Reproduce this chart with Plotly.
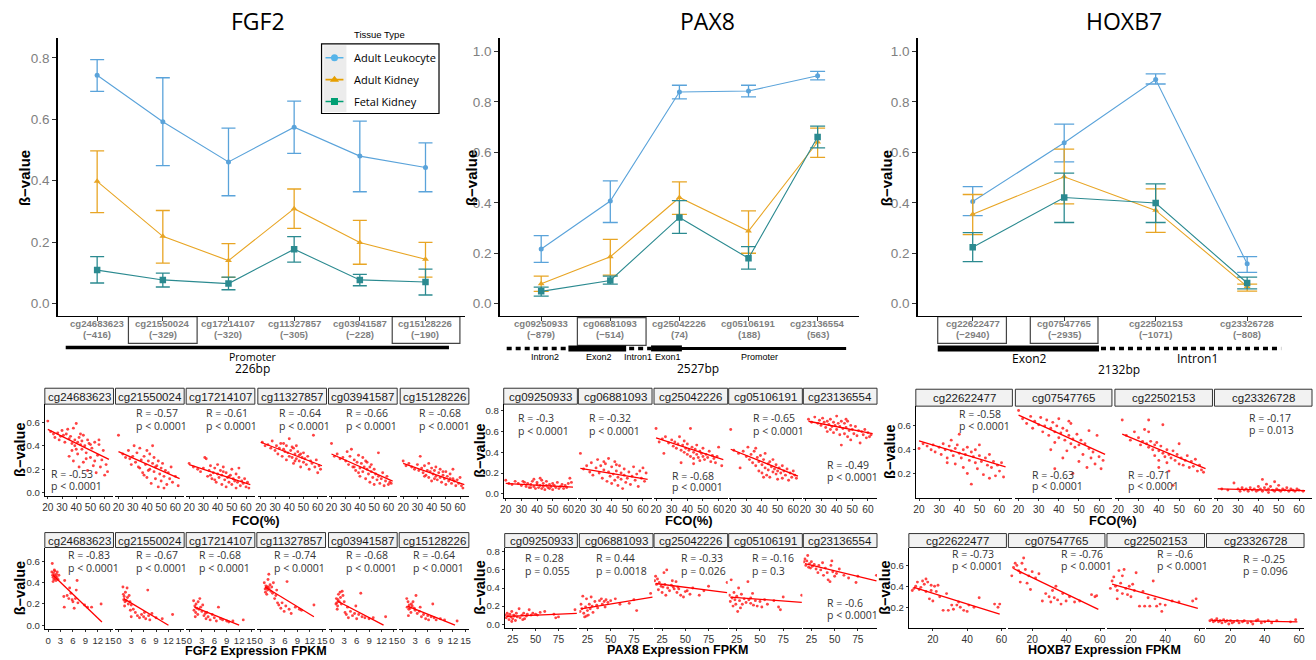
import plotly.graph_objects as go

W, H = 1316, 660

# ======================================================================
# DATA
# ======================================================================
SERIES = ["Adult Leukocyte", "Adult Kidney", "Fetal Kidney"]

FGF2_PROBES = ["cg24683623", "cg21550024", "cg17214107", "cg11327857", "cg03941587", "cg15128226"]
FGF2_POS = ["(−416)", "(−329)", "(−320)", "(−305)", "(−228)", "(−190)"]
FGF2_LEUK = [0.743, 0.592, 0.461, 0.574, 0.480, 0.443]
FGF2_LEUK_HI = [0.794, 0.735, 0.571, 0.659, 0.594, 0.523]
FGF2_LEUK_LO = [0.691, 0.449, 0.351, 0.489, 0.364, 0.364]
FGF2_KID = [0.398, 0.219, 0.140, 0.309, 0.199, 0.144]
FGF2_KID_HI = [0.497, 0.303, 0.195, 0.373, 0.271, 0.199]
FGF2_KID_LO = [0.296, 0.132, 0.085, 0.245, 0.128, 0.086]
FGF2_FET = [0.109, 0.077, 0.065, 0.177, 0.077, 0.070]
FGF2_FET_HI = [0.153, 0.099, 0.086, 0.218, 0.095, 0.112]
FGF2_FET_LO = [0.067, 0.054, 0.045, 0.135, 0.058, 0.028]

PAX8_PROBES = ["cg09250933", "cg06881093", "cg25042226", "cg05106191", "cg23136554"]
PAX8_POS = ["(−879)", "(−514)", "(74)", "(188)", "(563)"]
PAX8_LEUK = [0.217, 0.407, 0.839, 0.843, 0.904]
PAX8_LEUK_HI = [0.270, 0.487, 0.866, 0.866, 0.921]
PAX8_LEUK_LO = [0.164, 0.322, 0.812, 0.820, 0.887]
PAX8_KID = [0.079, 0.186, 0.421, 0.288, 0.641]
PAX8_KID_HI = [0.109, 0.255, 0.483, 0.368, 0.696]
PAX8_KID_LO = [0.049, 0.113, 0.354, 0.200, 0.580]
PAX8_FET = [0.049, 0.092, 0.342, 0.180, 0.661]
PAX8_FET_HI = [0.066, 0.109, 0.409, 0.226, 0.704]
PAX8_FET_LO = [0.030, 0.078, 0.279, 0.137, 0.618]

HOXB7_PROBES = ["cg22622477", "cg07547765", "cg22502153", "cg23326728"]
HOXB7_POS = ["(−2940)", "(−2935)", "(−1071)", "(−808)"]
HOXB7_LEUK = [0.405, 0.638, 0.889, 0.158]
HOXB7_LEUK_HI = [0.464, 0.712, 0.911, 0.187]
HOXB7_LEUK_LO = [0.349, 0.562, 0.871, 0.124]
HOXB7_KID = [0.355, 0.503, 0.370, 0.068]
HOXB7_KID_HI = [0.433, 0.613, 0.455, 0.078]
HOXB7_KID_LO = [0.274, 0.396, 0.283, 0.050]
HOXB7_FET = [0.224, 0.421, 0.399, 0.082]
HOXB7_FET_HI = [0.282, 0.518, 0.475, 0.105]
HOXB7_FET_LO = [0.167, 0.322, 0.322, 0.059]

# ---------------- scatter: FCO(%) vs beta, FGF2 ----------------
FGF2_FCO_PTS = [
    [(20,0.61),(22,0.52),(24,0.50),(25,0.47),(27,0.51),(28,0.45),(29,0.48),(30,0.53),(31,0.49),(32,0.43),(33,0.50),(34,0.54),(35,0.46),(35,0.31),(36,0.48),(37,0.42),(38,0.55),(38,0.27),(39,0.45),(40,0.59),(40,0.37),(41,0.43),(42,0.47),(42,0.22),(43,0.41),(44,0.44),(45,0.49),(45,0.26),(46,0.40),(47,0.34),(48,0.45),(48,0.19),(49,0.42),(50,0.30),(51,0.38),(52,0.23),(53,0.43),(54,0.17),(55,0.32),(56,0.41),(57,0.22),(58,0.28),(59,0.36),(60,0.15),(61,0.24),(62,0.18),(37,0.36),(41,0.33),(44,0.37),(47,0.29),(50,0.41),(53,0.27),(56,0.45),(43,0.50),(39,0.40)],
    [(20,0.49),(23,0.33),(25,0.30),(27,0.36),(28,0.29),(30,0.31),(31,0.40),(32,0.26),(33,0.34),(34,0.22),(35,0.38),(36,0.28),(37,0.17),(38,0.31),(39,0.24),(40,0.36),(40,0.13),(41,0.27),(42,0.20),(42,0.33),(43,0.08),(44,0.25),(45,0.18),(45,0.30),(46,0.12),(47,0.23),(48,0.05),(48,0.27),(49,0.16),(50,0.21),(50,0.10),(51,0.25),(52,0.14),(53,0.19),(54,0.07),(55,0.17),(56,0.12),(57,0.22),(58,0.09),(60,0.14),(62,0.06),(35,0.21),(38,0.15),(44,0.40),(46,0.22),(52,0.04),(29,0.24),(41,0.19)],
    [(20,0.25),(23,0.22),(26,0.20),(28,0.18),(30,0.21),(32,0.29),(33,0.14),(34,0.19),(35,0.23),(36,0.12),(37,0.17),(38,0.21),(39,0.09),(40,0.16),(40,0.24),(41,0.13),(42,0.19),(43,0.07),(43,0.15),(44,0.22),(45,0.11),(46,0.17),(46,0.05),(47,0.13),(48,0.09),(49,0.15),(50,0.20),(50,0.07),(51,0.12),(52,0.10),(53,0.16),(53,0.04),(54,0.09),(55,0.13),(56,0.06),(57,0.10),(58,0.08),(59,0.12),(60,0.05),(61,0.09),(62,0.04),(35,0.15),(38,0.11),(44,0.18),(48,0.14),(55,0.21),(31,0.30)],
    [(21,0.43),(23,0.40),(25,0.41),(27,0.38),(28,0.44),(30,0.36),(31,0.40),(32,0.33),(33,0.38),(34,0.42),(35,0.31),(36,0.37),(37,0.35),(38,0.40),(38,0.28),(39,0.34),(40,0.46),(40,0.31),(41,0.36),(42,0.30),(43,0.38),(43,0.25),(44,0.33),(45,0.29),(45,0.40),(46,0.35),(47,0.27),(47,0.32),(48,0.22),(49,0.30),(50,0.34),(50,0.26),(51,0.29),(52,0.24),(53,0.31),(54,0.20),(55,0.27),(56,0.25),(57,0.49),(58,0.22),(59,0.28),(60,0.17),(61,0.23),(62,0.20),(36,0.42),(42,0.39),(48,0.33),(44,0.27)],
    [(20,0.42),(22,0.31),(24,0.33),(26,0.29),(28,0.30),(30,0.27),(31,0.35),(32,0.24),(33,0.31),(34,0.37),(35,0.22),(36,0.28),(37,0.19),(38,0.26),(39,0.32),(40,0.21),(40,0.14),(41,0.25),(42,0.18),(42,0.30),(43,0.22),(44,0.12),(45,0.20),(45,0.26),(46,0.16),(47,0.09),(47,0.22),(48,0.18),(49,0.13),(50,0.20),(50,0.07),(51,0.16),(52,0.11),(53,0.34),(53,0.14),(54,0.08),(55,0.12),(56,0.17),(57,0.06),(58,0.10),(59,0.14),(60,0.07),(61,0.09),(62,0.08),(36,0.22),(39,0.17),(44,0.27),(48,0.24)],
    [(20,0.27),(22,0.23),(24,0.25),(26,0.22),(28,0.20),(30,0.24),(31,0.19),(32,0.31),(33,0.21),(34,0.17),(35,0.23),(36,0.15),(37,0.19),(38,0.25),(38,0.13),(39,0.18),(40,0.21),(40,0.10),(41,0.16),(42,0.19),(43,0.14),(43,0.22),(44,0.11),(45,0.17),(46,0.13),(46,0.20),(47,0.09),(48,0.15),(49,0.12),(50,0.18),(50,0.07),(51,0.14),(52,0.10),(53,0.16),(54,0.08),(55,0.12),(55,0.20),(56,0.10),(57,0.06),(58,0.11),(59,0.08),(60,0.13),(61,0.06),(62,0.04),(35,0.14),(42,0.12),(48,0.18),(53,0.12)],
]
FGF2_FCO_FIT = [((20, 63), (0.54, 0.285)), ((20, 63), (0.35, 0.12)), ((20, 63), (0.24, 0.07)),
                ((20, 63), (0.43, 0.23)), ((20, 63), (0.33, 0.10)), ((20, 63), (0.25, 0.07))]
FGF2_FCO_R = ["R = -0.53", "R = -0.57", "R = -0.61", "R = -0.64", "R = -0.66", "R = -0.68"]
FGF2_FCO_P = ["p < 0.0001"] * 6

# ---------------- scatter: FPKM vs beta, FGF2 ----------------
FGF2_EXP_PTS = [
    [(1.0,0.58),(0.9,0.50),(1.1,0.47),(1.2,0.45),(1.3,0.49),(1.4,0.43),(1.5,0.47),(1.6,0.51),(1.7,0.44),(1.8,0.46),(1.9,0.42),(2.0,0.48),(2.1,0.45),(2.2,0.50),(2.4,0.43),(2.6,0.47),(1.2,0.41),(1.5,0.52),(3.8,0.27),(3.9,0.17),(4.0,0.42),(4.6,0.28),(5.2,0.35),(5.5,0.30),(5.8,0.24),(6.0,0.22),(6.3,0.16),(6.6,0.25),(7.0,0.42),(7.2,0.21),(8.8,0.19),(9.5,0.17),(10.5,0.17),(12.8,0.20),(5.0,0.25),(6.8,0.33)],
    [(1.0,0.36),(1.2,0.24),(1.3,0.27),(1.5,0.22),(1.6,0.31),(1.8,0.23),(2.0,0.35),(2.1,0.26),(2.3,0.20),(2.5,0.28),(2.7,0.22),(3.0,0.19),(1.4,0.18),(1.1,0.29),(3.5,0.15),(4.0,0.12),(4.5,0.09),(5.0,0.07),(5.5,0.10),(6.0,0.08),(6.2,0.12),(6.5,0.06),(7.0,0.33),(7.2,0.09),(7.5,0.05),(8.0,0.11),(3.0,0.08),(9.0,0.07),(10.5,0.06),(13.0,0.10),(2.8,0.14)],
    [(1.0,0.23),(1.1,0.14),(1.3,0.18),(1.5,0.12),(1.6,0.20),(1.8,0.16),(2.0,0.10),(2.1,0.22),(2.3,0.15),(2.5,0.25),(2.7,0.17),(3.0,0.13),(3.2,0.19),(3.5,0.09),(3.8,0.11),(4.0,0.06),(4.5,0.08),(5.0,0.05),(5.5,0.10),(6.0,0.07),(6.5,0.04),(7.0,0.17),(7.5,0.06),(8.0,0.05),(9.0,0.04),(9.5,0.03),(10.5,0.04),(13.0,0.05),(1.4,0.08),(4.2,0.12)],
    [(1.0,0.40),(1.2,0.34),(1.3,0.31),(1.4,0.37),(1.5,0.35),(1.6,0.29),(1.7,0.36),(1.8,0.33),(1.9,0.43),(2.0,0.36),(2.1,0.48),(2.2,0.34),(2.4,0.38),(2.6,0.32),(2.8,0.36),(3.0,0.30),(3.5,0.25),(3.8,0.28),(4.2,0.21),(4.5,0.19),(5.0,0.16),(5.3,0.21),(5.8,0.13),(6.2,0.18),(6.5,0.41),(7.0,0.15),(7.5,0.11),(8.5,0.17),(9.5,0.15),(10.0,0.14),(13.0,0.19),(3.2,0.40),(4.0,0.33)],
    [(1.0,0.20),(1.1,0.25),(1.2,0.21),(1.4,0.18),(1.5,0.24),(1.6,0.29),(1.8,0.22),(2.0,0.31),(2.1,0.26),(2.3,0.20),(2.5,0.32),(2.7,0.28),(3.0,0.22),(1.3,0.15),(3.2,0.12),(3.5,0.10),(4.0,0.07),(4.5,0.13),(5.0,0.09),(5.5,0.11),(6.0,0.06),(6.5,0.10),(7.0,0.30),(7.3,0.08),(8.0,0.07),(9.0,0.06),(10.0,0.07),(13.0,0.08),(3.8,0.17),(5.8,0.18)],
    [(1.0,0.25),(1.1,0.17),(1.3,0.22),(1.5,0.15),(1.6,0.19),(1.8,0.16),(2.0,0.12),(2.1,0.20),(2.3,0.18),(2.5,0.22),(2.8,0.16),(3.0,0.14),(3.2,0.28),(1.4,0.09),(3.5,0.11),(4.0,0.13),(4.5,0.08),(5.0,0.10),(5.5,0.06),(6.0,0.09),(6.2,0.05),(6.8,0.08),(7.2,0.20),(7.5,0.07),(8.0,0.05),(9.0,0.06),(10.0,0.05),(13.0,0.04),(4.2,0.17)],
]
FGF2_EXP_FIT = [((1.2, 13.0), (0.47, 0.03)), ((1.2, 12.0), (0.25, 0.0)), ((1.2, 12.0), (0.17, 0.0)),
                ((1.2, 13.0), (0.36, 0.08)), ((1.2, 12.5), (0.23, 0.0)), ((1.2, 12.5), (0.18, 0.0))]
FGF2_EXP_R = ["R = -0.83", "R = -0.67", "R = -0.68", "R = -0.74", "R = -0.68", "R = -0.64"]
FGF2_EXP_P = ["p < 0.0001"] * 6

# ---------------- scatter: PAX8 ----------------
PAX8_FCO_PTS = [
    [(20,0.13),(22,0.10),(24,0.09),(26,0.12),(28,0.10),(30,0.08),(31,0.12),(32,0.11),(33,0.07),(34,0.10),(35,0.06),(36,0.09),(37,0.12),(38,0.07),(38,0.14),(39,0.05),(40,0.09),(40,0.11),(41,0.06),(42,0.08),(42,0.15),(43,0.05),(44,0.10),(44,0.07),(45,0.04),(46,0.08),(46,0.12),(47,0.06),(48,0.09),(48,0.05),(49,0.07),(50,0.10),(50,0.04),(51,0.08),(52,0.06),(53,0.11),(54,0.05),(55,0.07),(56,0.09),(57,0.05),(58,0.08),(59,0.06),(60,0.10),(61,0.15),(62,0.11),(43,0.13),(36,0.06)],
    [(20,0.39),(22,0.24),(24,0.27),(26,0.21),(27,0.30),(28,0.18),(30,0.25),(31,0.33),(32,0.20),(33,0.27),(34,0.15),(35,0.23),(36,0.29),(37,0.12),(38,0.21),(38,0.34),(39,0.17),(40,0.26),(40,0.10),(41,0.19),(42,0.31),(42,0.13),(43,0.22),(44,0.08),(44,0.16),(45,0.27),(46,0.14),(46,0.20),(47,0.05),(48,0.18),(48,0.24),(49,0.11),(50,0.15),(51,0.21),(52,0.09),(53,0.17),(54,0.26),(55,0.13),(56,0.19),(57,0.07),(58,0.22),(59,0.15),(60,0.25),(61,0.12),(62,0.20),(35,0.31),(43,0.28)],
    [(20,0.63),(22,0.50),(24,0.53),(25,0.39),(26,0.55),(28,0.49),(30,0.52),(31,0.46),(32,0.50),(33,0.44),(34,0.48),(35,0.55),(36,0.42),(37,0.47),(38,0.40),(38,0.51),(39,0.44),(40,0.38),(40,0.48),(41,0.42),(42,0.63),(42,0.36),(43,0.45),(44,0.40),(44,0.34),(45,0.43),(46,0.38),(46,0.47),(47,0.35),(48,0.41),(48,0.32),(49,0.39),(50,0.36),(50,0.44),(51,0.33),(52,0.38),(53,0.35),(54,0.41),(55,0.31),(56,0.37),(57,0.34),(58,0.30),(59,0.36),(60,0.45),(62,0.27),(36,0.30),(44,0.29)],
    [(20,0.62),(22,0.42),(25,0.39),(26,0.25),(28,0.41),(30,0.36),(31,0.45),(32,0.33),(33,0.38),(34,0.30),(35,0.41),(36,0.27),(37,0.35),(38,0.31),(38,0.22),(39,0.37),(40,0.28),(40,0.20),(41,0.33),(42,0.25),(42,0.39),(43,0.18),(44,0.29),(44,0.23),(45,0.31),(45,0.16),(46,0.26),(47,0.21),(47,0.33),(48,0.24),(49,0.19),(49,0.28),(50,0.22),(50,0.14),(51,0.25),(52,0.20),(53,0.27),(53,0.15),(54,0.22),(55,0.18),(56,0.24),(57,0.13),(58,0.20),(59,0.16),(60,0.22),(61,0.18),(62,0.15),(36,0.44),(41,0.16)],
    [(22,0.72),(24,0.69),(26,0.74),(28,0.68),(29,0.71),(30,0.66),(31,0.73),(32,0.69),(33,0.64),(34,0.70),(35,0.67),(36,0.62),(36,0.72),(37,0.65),(38,0.69),(38,0.59),(39,0.66),(40,0.75),(40,0.62),(41,0.68),(42,0.57),(42,0.65),(43,0.70),(43,0.47),(44,0.63),(45,0.58),(45,0.68),(46,0.64),(47,0.55),(47,0.70),(48,0.61),(49,0.66),(49,0.52),(50,0.62),(51,0.58),(52,0.65),(53,0.56),(54,0.61),(55,0.49),(56,0.60),(57,0.57),(58,0.62),(59,0.54),(60,0.59),(61,0.55),(62,0.57),(34,0.60),(46,0.72)],
]
PAX8_FCO_FIT = [((20, 63), (0.10, 0.065)), ((20, 63), (0.245, 0.14)), ((20, 63), (0.54, 0.33)),
                ((20, 63), (0.43, 0.17)), ((22, 63), (0.70, 0.58))]
PAX8_FCO_R = ["R = -0.3", "R = -0.32", "R = -0.68", "R = -0.65", "R = -0.49"]
PAX8_FCO_P = ["p < 0.0001"] * 5

PAX8_EXP_PTS = [
    [(17,0.10),(18,0.07),(19,0.12),(20,0.09),(21,0.05),(22,0.11),(23,0.08),(24,0.14),(25,0.06),(26,0.10),(27,0.09),(28,0.04),(29,0.12),(30,0.08),(32,0.17),(33,0.07),(35,0.10),(37,0.12),(38,0.06),(40,0.09),(41,0.11),(43,0.16),(45,0.10),(47,0.12),(50,0.11),(52,0.10),(55,0.13),(60,0.14),(70,0.11),(72,0.07),(75,0.08),(93,0.16),(24,0.03),(36,0.05)],
    [(17,0.14),(18,0.22),(19,0.17),(20,0.31),(21,0.12),(22,0.08),(23,0.19),(24,0.28),(25,0.15),(26,0.10),(27,0.22),(28,0.17),(29,0.30),(30,0.20),(31,0.13),(33,0.25),(35,0.21),(36,0.18),(38,0.26),(40,0.28),(41,0.22),(43,0.25),(44,0.19),(45,0.27),(47,0.24),(50,0.26),(55,0.28),(60,0.22),(70,0.23),(75,0.27),(78,0.15),(93,0.34),(24,0.09)],
    [(17,0.48),(18,0.53),(19,0.44),(20,0.50),(21,0.38),(22,0.46),(24,0.42),(25,0.35),(26,0.41),(27,0.57),(28,0.44),(29,0.32),(30,0.60),(31,0.40),(33,0.37),(35,0.43),(37,0.41),(38,0.39),(40,0.47),(41,0.35),(42,0.41),(43,0.39),(45,0.32),(48,0.30),(50,0.36),(52,0.37),(55,0.33),(58,0.40),(65,0.32),(70,0.37),(75,0.42),(95,0.46),(36,0.48)],
    [(17,0.32),(18,0.25),(19,0.49),(20,0.29),(21,0.20),(22,0.35),(23,0.27),(24,0.22),(25,0.31),(26,0.14),(27,0.40),(28,0.26),(29,0.18),(30,0.33),(31,0.22),(33,0.28),(35,0.24),(37,0.47),(38,0.27),(40,0.23),(42,0.34),(43,0.21),(45,0.26),(47,0.20),(50,0.25),(52,0.19),(55,0.27),(58,0.22),(65,0.26),(70,0.19),(72,0.16),(75,0.30),(95,0.32),(40,0.29)],
    [(17,0.69),(18,0.72),(19,0.65),(20,0.70),(21,0.76),(22,0.63),(23,0.67),(24,0.62),(25,0.69),(26,0.64),(28,0.66),(30,0.61),(32,0.57),(33,0.65),(35,0.60),(37,0.68),(38,0.54),(40,0.62),(42,0.57),(43,0.49),(45,0.47),(46,0.65),(47,0.70),(48,0.58),(50,0.53),(52,0.56),(55,0.61),(60,0.54),(65,0.51),(73,0.46),(75,0.53),(95,0.54)],
]
PAX8_EXP_FIT = [((18, 95), (0.085, 0.12)), ((18, 95), (0.17, 0.30)), ((18, 95), (0.45, 0.35)),
                ((18, 95), (0.30, 0.24)), ((18, 95), (0.67, 0.48))]
PAX8_EXP_R = ["R = 0.28", "R = 0.44", "R = -0.33", "R = -0.16", "R = -0.6"]
PAX8_EXP_P = ["p = 0.055", "p = 0.0018", "p = 0.026", "p = 0.3", "p < 0.0001"]

# ---------------- scatter: HOXB7 ----------------
HOXB7_FCO_PTS = [
    [(20,0.41),(22,0.45),(24,0.43),(26,0.40),(27,0.44),(28,0.38),(30,0.42),(31,0.36),(32,0.45),(33,0.40),(34,0.33),(35,0.43),(36,0.39),(36,0.48),(37,0.35),(38,0.41),(38,0.28),(39,0.44),(40,0.37),(40,0.53),(41,0.33),(42,0.40),(42,0.25),(43,0.36),(44,0.42),(44,0.20),(45,0.31),(46,0.38),(46,0.11),(47,0.34),(48,0.29),(48,0.40),(49,0.24),(50,0.35),(51,0.30),(52,0.19),(53,0.33),(54,0.27),(55,0.36),(55,0.16),(56,0.25),(57,0.30),(58,0.18),(59,0.27),(60,0.22),(61,0.29),(62,0.17),(50,0.44),(34,0.29)],
    [(20,0.73),(22,0.66),(24,0.62),(26,0.68),(27,0.58),(28,0.64),(30,0.61),(31,0.67),(32,0.55),(33,0.60),(34,0.65),(35,0.52),(36,0.58),(36,0.40),(37,0.63),(38,0.55),(38,0.46),(39,0.60),(40,0.50),(40,0.66),(41,0.54),(42,0.33),(42,0.58),(43,0.48),(44,0.56),(44,0.39),(45,0.52),(46,0.45),(46,0.62),(47,0.49),(47,0.20),(48,0.42),(49,0.53),(50,0.44),(50,0.30),(51,0.48),(52,0.36),(53,0.45),(54,0.25),(55,0.41),(55,0.56),(56,0.33),(57,0.38),(58,0.28),(59,0.52),(60,0.34),(61,0.24),(62,0.31),(45,0.64),(38,0.24)],
    [(22,0.65),(24,0.52),(26,0.48),(28,0.55),(30,0.50),(31,0.44),(32,0.47),(33,0.57),(34,0.45),(35,0.42),(35,0.65),(36,0.47),(37,0.40),(38,0.44),(38,0.35),(39,0.46),(40,0.39),(40,0.31),(41,0.43),(42,0.37),(42,0.61),(43,0.34),(44,0.40),(44,0.29),(45,0.36),(45,0.22),(46,0.33),(47,0.39),(47,0.10),(48,0.31),(49,0.36),(50,0.28),(50,0.45),(51,0.33),(52,0.27),(53,0.31),(54,0.35),(55,0.25),(56,0.30),(57,0.26),(58,0.32),(59,0.22),(60,0.27),(61,0.23),(62,0.21),(35,0.55),(40,0.25)],
    [(22,0.07),(25,0.06),(28,0.12),(30,0.07),(31,0.05),(32,0.08),(33,0.06),(34,0.07),(35,0.05),(36,0.08),(37,0.06),(38,0.07),(39,0.05),(40,0.09),(40,0.06),(41,0.07),(42,0.15),(42,0.05),(43,0.08),(44,0.06),(45,0.07),(45,0.04),(46,0.09),(47,0.06),(48,0.05),(48,0.13),(49,0.07),(50,0.06),(50,0.10),(51,0.05),(52,0.07),(53,0.06),(54,0.08),(55,0.05),(56,0.07),(57,0.06),(58,0.05),(59,0.07),(60,0.06),(62,0.05),(44,0.11)],
]
HOXB7_FCO_FIT = [((20, 63), (0.475, 0.255)), ((20, 63), (0.69, 0.36)), ((22, 63), (0.53, 0.24)),
                 ((20, 63), (0.07, 0.055))]
HOXB7_FCO_R = ["R = -0.58", "R = -0.63", "R = -0.71", "R = -0.17"]
HOXB7_FCO_P = ["p < 0.0001", "p < 0.0001", "p < 0.0001", "p = 0.013"]

HOXB7_EXP_PTS = [
    [(8,0.36),(9,0.38),(10,0.40),(11,0.44),(12,0.37),(13,0.39),(14,0.45),(15,0.42),(16,0.47),(16,0.35),(17,0.44),(18,0.28),(19,0.36),(19,0.41),(20,0.26),(21,0.40),(22,0.35),(24,0.30),(26,0.17),(28,0.33),(29,0.17),(31,0.22),(32,0.18),(34,0.22),(35,0.25),(36,0.20),(38,0.17),(40,0.16),(41,0.22),(44,0.20),(47,0.29),(56,0.23),(58,0.20),(59,0.23),(23,0.41)],
    [(8,0.50),(9,0.58),(10,0.62),(11,0.60),(12,0.55),(13,0.53),(14,0.62),(15,0.67),(16,0.56),(17,0.43),(18,0.50),(19,0.37),(20,0.54),(22,0.48),(24,0.52),(26,0.26),(28,0.33),(30,0.30),(31,0.25),(32,0.36),(33,0.29),(34,0.40),(35,0.27),(37,0.23),(38,0.33),(40,0.26),(42,0.30),(45,0.25),(48,0.26),(55,0.32),(57,0.30),(58,0.31),(13,0.44)],
    [(8,0.38),(9,0.45),(10,0.49),(11,0.40),(12,0.36),(13,0.55),(14,0.43),(15,0.50),(15,0.33),(16,0.56),(17,0.38),(18,0.32),(19,0.40),(20,0.30),(21,0.42),(22,0.36),(23,0.53),(25,0.21),(27,0.35),(28,0.21),(30,0.29),(31,0.21),(33,0.45),(34,0.28),(35,0.21),(37,0.23),(38,0.16),(40,0.22),(44,0.26),(48,0.25),(56,0.26),(58,0.28),(12,0.28)],
    [(8,0.07),(9,0.08),(10,0.06),(11,0.07),(12,0.09),(13,0.06),(14,0.07),(15,0.05),(16,0.08),(17,0.06),(18,0.07),(19,0.04),(20,0.07),(22,0.06),(24,0.07),(25,0.05),(27,0.06),(28,0.07),(30,0.05),(32,0.06),(33,0.04),(35,0.07),(36,0.08),(38,0.05),(40,0.06),(42,0.07),(44,0.05),(47,0.07),(55,0.06),(58,0.08),(21,0.05)],
]
HOXB7_EXP_FIT = [((9, 59), (0.39, 0.135)), ((9, 59), (0.57, 0.18)), ((9, 59), (0.42, 0.19)),
                 ((9, 59), (0.075, 0.06))]
HOXB7_EXP_R = ["R = -0.73", "R = -0.76", "R = -0.6", "R = -0.25"]
HOXB7_EXP_P = ["p < 0.0001", "p < 0.0001", "p < 0.0001", "p = 0.096"]

# ======================================================================
# STYLE / LAYOUT
# ======================================================================
SANS = "Liberation Sans, Arial, sans-serif"
OPEN = "Open Sans, sans-serif"

C_LINE = ["#5aa3da", "#e8a524", "#2b8a90"]
C_LEG = ["#56B4E9", "#E69F00", "#009E73"]
SYMBOLS = ["circle", "triangle-up", "square"]
MSIZE = [5, 6, 6.5]

layout = dict(width=W, height=H, margin=dict(l=0, r=0, t=0, b=0, pad=0), autosize=False,
              paper_bgcolor="white", plot_bgcolor="rgba(0,0,0,0)", showlegend=False,
              font=dict(family=SANS), hovermode=False)
traces, shapes, annots = [], [], []
_n = [0]


def px(x):
    return x / W


def py(y):
    return 1 - y / H


def new_axes(x0, x1, y0, y1, xo, yo):
    _n[0] += 1
    n = _n[0]
    xs = "" if n == 1 else str(n)
    layout["xaxis" + xs] = dict(domain=[px(x0), px(x1)], anchor="y" + xs, **xo)
    layout["yaxis" + xs] = dict(domain=[py(y1), py(y0)], anchor="x" + xs, **yo)
    return "x" + xs, "y" + xs


def text(x, y, s, size, color="black", family=OPEN, bold=False, angle=0, xanchor="center", yanchor="middle"):
    annots.append(dict(x=px(x), y=py(y), xref="paper", yref="paper", text=s, showarrow=False,
                       font=dict(size=size, color=color, family=family, weight="bold" if bold else "normal"),
                       textangle=angle, xanchor=xanchor, yanchor=yanchor))


def hline(x0, x1, y, width, dash="solid", color="black"):
    shapes.append(dict(type="line", xref="paper", yref="paper", x0=px(x0), x1=px(x1), y0=py(y), y1=py(y),
                       line=dict(color=color, width=width, dash=dash)))


def rect(x0, y0, x1, y1, fill="rgba(0,0,0,0)", line="#333333", lw=1, layer="below"):
    shapes.append(dict(type="rect", xref="paper", yref="paper", x0=px(x0), x1=px(x1), y0=py(y1), y1=py(y0),
                       fillcolor=fill, line=dict(color=line, width=lw), layer=layer))


# ---------------- top line charts ----------------
def top_chart(xdom, ydom, yrange, yticks, probes, pos, series, capw):
    n = len(probes)
    xo = dict(range=[0.4, n + 0.6], tickvals=list(range(1, n + 1)), showticklabels=False,
              showline=True, linecolor="black", linewidth=1.5, ticks="outside", ticklen=4,
              tickcolor="#333", tickwidth=1, showgrid=False, zeroline=False)
    yo = dict(range=yrange, tickvals=yticks, ticktext=[f"{v:.1f}" for v in yticks],
              showline=True, linecolor="black", linewidth=1.5, ticks="outside", ticklen=4,
              tickcolor="#333", tickwidth=1, showgrid=False, zeroline=False,
              tickfont=dict(size=13.5, color="#808080", family=SANS))
    xr, yr = new_axes(xdom[0], xdom[1], ydom[0], ydom[1], xo, yo)
    for k, (m, hi, lo) in enumerate(series):
        traces.append(go.Scatter(
            x=list(range(1, n + 1)), y=m, xaxis=xr, yaxis=yr, mode="lines+markers",
            line=dict(color=C_LINE[k], width=1.1),
            marker=dict(symbol=SYMBOLS[k], size=MSIZE[k], color=C_LINE[k]),
            error_y=dict(type="data", symmetric=False,
                         array=[h - v for h, v in zip(hi, m)],
                         arrayminus=[v - l for l, v in zip(lo, m)],
                         color=C_LINE[k], thickness=1.3, width=capw),
            hoverinfo="skip"))
    # two-line category labels under the axis
    for i in range(n):
        for s, yy in ((probes[i], 324), (pos[i], 335.5)):
            annots.append(dict(x=i + 1, y=py(yy), xref=xr, yref="paper", text=s, showarrow=False,
                               xanchor="center", yanchor="middle",
                               font=dict(size=9.6, color="#7f7f7f", family=SANS, weight="bold")))


top_chart((54, 463), (37, 316), [-0.039, 0.865], [0, 0.2, 0.4, 0.6, 0.8], FGF2_PROBES, FGF2_POS,
          [(FGF2_LEUK, FGF2_LEUK_HI, FGF2_LEUK_LO), (FGF2_KID, FGF2_KID_HI, FGF2_KID_LO),
           (FGF2_FET, FGF2_FET_HI, FGF2_FET_LO)], 7)
top_chart((498, 859), (37, 316), [-0.047, 1.054], [0, 0.2, 0.4, 0.6, 0.8, 1.0], PAX8_PROBES, PAX8_POS,
          [(PAX8_LEUK, PAX8_LEUK_HI, PAX8_LEUK_LO), (PAX8_KID, PAX8_KID_HI, PAX8_KID_LO),
           (PAX8_FET, PAX8_FET_HI, PAX8_FET_LO)], 7.5)
top_chart((918, 1304), (37, 316), [-0.047, 1.054], [0, 0.2, 0.4, 0.6, 0.8, 1.0], HOXB7_PROBES, HOXB7_POS,
          [(HOXB7_LEUK, HOXB7_LEUK_HI, HOXB7_LEUK_LO), (HOXB7_KID, HOXB7_KID_HI, HOXB7_KID_LO),
           (HOXB7_FET, HOXB7_FET_HI, HOXB7_FET_LO)], 10)

# titles
text(255, 20, "FGF2", 23)
text(707, 20, "PAX8", 23)
text(1125, 20, "HOXB7", 23)
for xx in (20, 469, 886):
    text(xx, 178, "ß−value", 15, family=SANS, bold=True, angle=-90)

# boxed tick labels
for (a, b, c, d) in [(125, 317, 194, 344), (390, 317, 458, 344), (576, 318, 645, 346),
                     (938, 317, 1007, 344), (1031, 317, 1099, 344)]:
    rect(a, b, c, d, line="#444444", lw=1.2)

# legend (FGF2 panel)
text(377, 34, "Tissue Type", 9.5, family=SANS)
rect(319, 43, 437, 113, fill="white", line="black", lw=1.2)
rect(321, 44.5, 344, 111.5, fill="#ececec", line="rgba(0,0,0,0)", lw=0)
lx, ly = new_axes(319, 437, 43, 113,
                  dict(range=[319, 437], visible=False, fixedrange=True),
                  dict(range=[113, 43], visible=False, fixedrange=True))
for k, yy in enumerate([57, 79, 101]):
    traces.append(go.Scatter(x=[323, 341], y=[yy, yy], xaxis=lx, yaxis=ly, mode="lines",
                             line=dict(color=C_LEG[k], width=1.6), hoverinfo="skip"))
    traces.append(go.Scatter(x=[332], y=[yy], xaxis=lx, yaxis=ly, mode="markers",
                             marker=dict(symbol=SYMBOLS[k], size=[7, 8, 7][k], color=C_LEG[k]), hoverinfo="skip"))
    text(350, yy, SERIES[k], 11, family=OPEN, xanchor="left")

# gene structure diagrams
hline(62, 447, 348, 3.5)
text(250, 358, "Promoter", 10.5)
text(250, 369.5, "226bp", 12)

hline(505, 567, 349, 3.5, dash="5px,4px")
hline(567, 625, 349, 6)
hline(628, 650, 349, 3.5, dash="5px,4px")
hline(650, 681, 349, 6)
hline(680, 846, 349, 3)
for (xx, s) in [(543, "Intron2"), (598, "Exon2"), (637, "Intron1"), (667, "Exon1"), (759, "Promoter")]:
    text(xx, 358, s, 9, family=SANS)
text(697, 369.5, "2527bp", 12)

hline(938, 1100, 349, 6)
hline(1102, 1283, 349, 3.5, dash="5px,4px")
text(1030, 359, "Exon2", 12)
text(1199, 359, "Intron1", 12)
text(1120, 370.5, "2132bp", 12)


# ---------------- scatter facet rows ----------------
def facet_row(probes, pts, fits, rlab, plab, txtpos, panels, plot_y, strip_y, xrange, yrange,
              xticks, yticks, ylab_x, xtitle, xtitle_pos, xtick_size=10.2, xtitle_size=13):
    for i, (x0, x1) in enumerate(panels):
        first = i == 0
        xo = dict(range=xrange, tickvals=xticks, ticktext=[str(t) for t in xticks], tickangle=0,
                  showline=True, linecolor="black", linewidth=1, ticks="outside", ticklen=2,
                  tickcolor="#333", showgrid=False, zeroline=False,
                  tickfont=dict(size=xtick_size, color="#333333", family=SANS))
        yo = dict(range=yrange, tickvals=yticks, ticktext=[f"{v:.1f}" for v in yticks],
                  showline=first, linecolor="black", linewidth=1, ticks="outside" if first else "",
                  ticklen=2, tickcolor="#333", showticklabels=first, showgrid=False, zeroline=False,
                  tickfont=dict(size=9.6, color="#333333", family=SANS))
        xr, yr = new_axes(x0, x1, plot_y[0], plot_y[1], xo, yo)
        traces.append(go.Scatter(x=[p[0] for p in pts[i]], y=[p[1] for p in pts[i]], xaxis=xr, yaxis=yr,
                                 mode="markers", marker=dict(size=2.9, color="rgba(255,20,20,0.8)"),
                                 hoverinfo="skip"))
        fx, fy = fits[i]
        traces.append(go.Scatter(x=list(fx), y=list(fy), xaxis=xr, yaxis=yr, mode="lines",
                                 line=dict(color="#ff0000", width=1.3), hoverinfo="skip"))
        tx, ry, pyy = txtpos[i]
        for s, yy in ((rlab[i], ry), (plab[i], pyy)):
            annots.append(dict(x=tx, y=yy, xref=xr, yref=yr, text=s, showarrow=False, xanchor="left",
                               yanchor="middle", font=dict(size=10.5, color="#333333", family=OPEN)))
        rect(x0, strip_y[0], x1, strip_y[1], fill="#f2f2f2", line="#333333", lw=1)
        text((x0 + x1) / 2, (strip_y[0] + strip_y[1]) / 2 + 0.5, probes[i], 11.5, color="#1a1a1a", family=SANS)
    text(ylab_x, (plot_y[0] + plot_y[1]) / 2, "ß−value", 14.5, family=SANS, bold=True, angle=-90)
    text(xtitle_pos[0], xtitle_pos[1], xtitle, xtitle_size, family=SANS, bold=True)


FGF2_PANELS_A = [(41, 110), (112, 181), (183, 252), (255, 324), (326, 395), (398, 467)]
FGF2_PANELS_B = [(41, 110), (112, 181), (183, 252), (254, 323), (326, 395), (397, 467)]
PAX8_PANELS_A = [(502, 576), (577, 651), (653, 727), (728, 802), (803, 877)]
PAX8_PANELS_B = [(503, 576), (578, 652), (653, 727), (728, 802), (803, 877)]
HOXB7_PANELS_A = [(916, 1013), (1016, 1113), (1116, 1214), (1216, 1314)]
HOXB7_PANELS_B = [(909, 1007), (1009, 1106), (1108, 1206), (1208, 1306)]

facet_row(FGF2_PROBES, FGF2_FCO_PTS, FGF2_FCO_FIT, FGF2_FCO_R, FGF2_FCO_P,
          [(20.5, 0.16, 0.056), (31.2, 0.68, 0.57), (30.5, 0.68, 0.57), (31.2, 0.68, 0.57),
           (28.7, 0.68, 0.57), (30.0, 0.68, 0.57)],
          FGF2_PANELS_A, (405, 497), (389, 405), [17.9, 66.2], [-0.025, 0.754],
          [20, 30, 40, 50, 60], [0, 0.2, 0.4, 0.6], 16, "FCO(%)", (253, 522))
facet_row(FGF2_PROBES, FGF2_EXP_PTS, FGF2_EXP_FIT, FGF2_EXP_R, FGF2_EXP_P,
          [(4.2, 0.66, 0.54), (3.7, 0.66, 0.54), (1.8, 0.66, 0.54), (2.9, 0.66, 0.54),
           (3.0, 0.66, 0.54), (2.1, 0.66, 0.54)],
          FGF2_PANELS_B, (549, 631), (534, 549), [-0.8, 15.8], [-0.037, 0.731],
          [0, 3, 6, 9, 12, 15], [0, 0.2, 0.4, 0.6], 16, "FGF2 Expression FPKM", (253, 652.5), 9.6, 12.5)
facet_row(PAX8_PROBES, PAX8_FCO_PTS, PAX8_FCO_FIT, PAX8_FCO_R, PAX8_FCO_P,
          [(26.4, 0.73, 0.61), (24.3, 0.73, 0.61), (29.2, 0.176, 0.064), (32.8, 0.73, 0.61),
           (32.8, 0.28, 0.166)],
          PAX8_PANELS_A, (405, 499), (389, 405), [18.7, 65.8], [-0.038, 0.865],
          [20, 30, 40, 50, 60], [0, 0.2, 0.4, 0.6, 0.8], 478, "FCO(%)", (688, 522))
facet_row(PAX8_PROBES, PAX8_EXP_PTS, PAX8_EXP_FIT, PAX8_EXP_R, PAX8_EXP_P,
          [(36.6, 0.73, 0.59), (32.2, 0.73, 0.59), (42.7, 0.73, 0.59), (39.5, 0.73, 0.59),
           (39.5, 0.23, 0.10)],
          PAX8_PANELS_B, (549, 630), (535, 549), [16.3, 95.6], [-0.044, 0.848],
          [25, 50, 75], [0, 0.2, 0.4, 0.6, 0.8], 478, "PAX8 Expression FPKM", (677, 652), 10.2, 12.5)
facet_row(HOXB7_PROBES, HOXB7_FCO_PTS, HOXB7_FCO_FIT, HOXB7_FCO_R, HOXB7_FCO_P,
          [(38.7, 0.70, 0.60), (25.7, 0.19, 0.097), (24.0, 0.19, 0.097), (34.6, 0.67, 0.565)],
          HOXB7_PANELS_A, (407, 499), (390, 407), [18.4, 66.4], [-0.004, 0.766],
          [20, 30, 40, 50, 60], [0.2, 0.4, 0.6], 890, "FCO(%)", (1114, 522))
facet_row(HOXB7_PROBES, HOXB7_EXP_PTS, HOXB7_EXP_FIT, HOXB7_EXP_R, HOXB7_EXP_P,
          [(30.2, 0.705, 0.59), (35.7, 0.705, 0.59), (34.0, 0.705, 0.59), (26.0, 0.66, 0.55)],
          HOXB7_PANELS_B, (549, 630), (535, 549), [6.0, 62.9], [0.0, 0.771],
          [20, 40, 60], [0.2, 0.4, 0.6], 885, "HOXB7 Expression FPKM", (1106, 652), 10.2, 12.5)

layout["shapes"] = shapes
layout["annotations"] = annots
fig = go.Figure(data=traces, layout=layout)
# remove the browser's default 8px page margin so the 1316x660 figure fills the window exactly
fig.write_html("out.html",
               config={"displayModeBar": False, "staticPlot": True},
               post_script="document.body.style.margin='0px';document.body.style.overflow='hidden';")
